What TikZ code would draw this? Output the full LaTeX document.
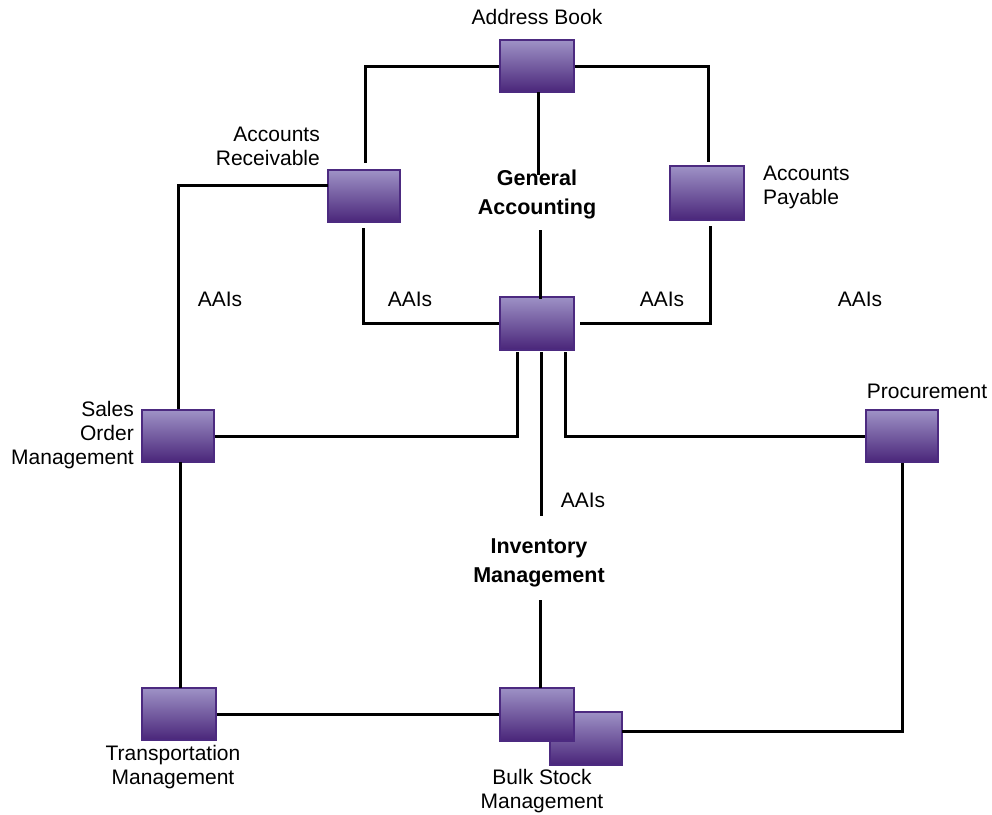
\documentclass[tikz,border=0pt]{standalone}
\usepackage{fontspec}
\setmainfont{Liberation Sans}
\definecolor{boxborder}{RGB}{76,42,128}
\definecolor{boxtop}{RGB}{158,146,198}
\definecolor{boxbot}{RGB}{74,38,122}
\tikzset{
  modbox/.style={rectangle, draw=boxborder, line width=2pt, top color=boxtop, bottom color=boxbot, inner sep=0pt, minimum width=72pt, minimum height=52pt},
  lbl/.style={inner sep=0pt, font=\fontsize{21}{24}\selectfont},
  blbl/.style={inner sep=0pt, align=center, font=\fontsize{21.5}{29}\selectfont\bfseries},
  conn/.style={line width=3pt, draw=black}
}
\begin{document}
\begin{tikzpicture}[x=1pt,y=-1pt]
\useasboundingbox (0,0) rectangle (992,814);
% boxes
\node[modbox, minimum width=74pt] (ab) at (537,66) {};
\node[modbox] (ar) at (364,196) {};
\node[modbox, minimum width=74pt, minimum height=54pt] (ap) at (707,193) {};
\node[modbox, minimum width=74pt, minimum height=53pt] (ga) at (537,323) {};
\node[modbox] (som) at (178,436) {};
\node[modbox] (proc) at (902,436) {};
\node[modbox, minimum width=74pt] (tm) at (179,714) {};
\node[modbox, minimum height=53pt] (bs2) at (586,738) {};
\node[modbox, minimum width=74pt, minimum height=53pt] (bs1) at (537,714) {};
% labels
\node[lbl] (labAB) at (537,17) {Address Book};
\node[lbl, align=right, anchor=east] (labAR) at (320,146) {Accounts\\Receivable};
\node[lbl, align=left, anchor=west] (labAP) at (763,187) {Accounts\\Payable};
\node[lbl, align=right, anchor=east] (labSOM) at (134,435) {Sales\\Order\\Management};
\node[lbl] (labProc) at (927,391) {Procurement};
\node[lbl, align=center] (labTM) at (173,767) {Transportation\\Management};
\node[lbl, align=center] (labBS) at (542,791) {Bulk Stock\\Management};
\node[blbl] (labGA) at (537,194) {General\\Accounting};
\node[blbl] (labIM) at (539,563) {Inventory\\Management};
\node[lbl] (aai1) at (220,299) {AAIs};
\node[lbl] (aai2) at (410,299) {AAIs};
\node[lbl] (aai3) at (662,299) {AAIs};
\node[lbl] (aai4) at (860,299) {AAIs};
\node[lbl] (aai5) at (583,500) {AAIs};
% coordinates
\coordinate (c1) at (365,163);
\coordinate (c2) at (708,162);
\coordinate (c3) at (538,175);
\coordinate (c4) at (540,230);
\coordinate (c5) at (540,299);
\coordinate (c6) at (363,228);
\coordinate (c7) at (710,226);
\coordinate (c7e) at (580,323);
\coordinate (c8) at (517,352);
\coordinate (c9) at (541,352);
\coordinate (c10) at (541,516);
\coordinate (c11) at (565,352);
\coordinate (c12) at (540,600);
\coordinate (c13) at (540,688);
\coordinate (c14) at (328,185);
\coordinate (c15) at (622,731);
\coordinate (c16) at (538,92);
\coordinate (c17) at (180,462);
\coordinate (c18) at (180,688);
% connectors
\draw[conn] (ab.west) -| (c1);
\draw[conn] (ab.east) -| (c2);
\draw[conn] (c16) -- (c3);
\draw[conn] (c4) -- (c5);
\draw[conn] (c14) -| (som.north);
\draw[conn] (c6) |- (ga.west);
\draw[conn] (c7) |- (c7e);
\draw[conn] (c8) |- (som.east);
\draw[conn] (c9) -- (c10);
\draw[conn] (c11) |- (proc.west);
\draw[conn] (c12) -- (c13);
\draw[conn] (c17) -- (c18);
\draw[conn] (tm.east) -- (bs1.west);
\draw[conn] (c15) -| (proc.south);
\end{tikzpicture}
\end{document}
